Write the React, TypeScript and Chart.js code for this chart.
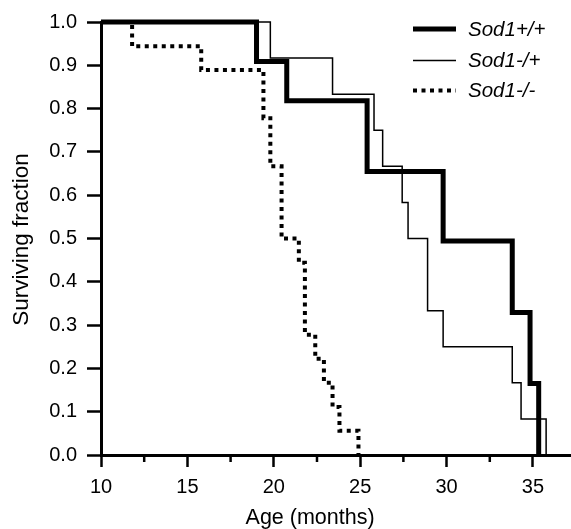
import React, { useEffect, useRef } from 'react';
import { Chart, registerables } from 'chart.js';

Chart.register(...registerables);

// Kaplan-Meier survival data (age in months, surviving fraction)
const wildAges = [10, 19.0, 20.75, 25.4, 29.8, 33.8, 34.83, 35.33];
const wildSurvival = [1, 0.909, 0.818, 0.655, 0.494, 0.329, 0.165, 0];
const hetAges = [10, 19.8, 23.4, 25.8, 26.3, 27.43, 27.77, 28.9, 29.8, 33.8, 34.31, 35.76];
const hetSurvival = [1, 0.917, 0.833, 0.75, 0.667, 0.583, 0.5, 0.333, 0.25, 0.167, 0.083, 0];
const nullAges = [10, 11.8, 15.8, 19.4, 19.8, 20.45, 21.45, 21.8, 22.4, 22.9, 23.4, 23.8, 24.9];
const nullSurvival = [1, 0.944, 0.889, 0.778, 0.667, 0.5, 0.444, 0.278, 0.222, 0.167, 0.111, 0.056, 0];

const seriesLabels = ['Sod1+/+', 'Sod1-/+', 'Sod1-/-'];
const xMajorTicks = [10, 15, 20, 25, 30, 35];
const xMinorTicks = [12.5, 17.5, 22.5, 27.5, 32.5];
const xTitle = 'Age (months)';
const yTitle = 'Surviving fraction';

const FONT = '"Liberation Sans", Arial, Helvetica, sans-serif';

const toPoints = (xs: number[], ys: number[]) => xs.map((x, i) => ({ x, y: ys[i] }));

const extrasPlugin = {
  id: 'extras',
  afterDraw(chart: any) {
    const ctx = chart.ctx;
    const xs = chart.scales.x;
    const ys = chart.scales.y;
    const bottom = chart.chartArea.bottom;
    ctx.save();
    // minor x ticks
    ctx.strokeStyle = '#000';
    ctx.lineWidth = 2.5;
    xMinorTicks.forEach((v) => {
      const px = xs.getPixelForValue(v);
      ctx.beginPath();
      ctx.moveTo(px, bottom);
      ctx.lineTo(px, bottom + 7);
      ctx.stroke();
    });
    // axis titles
    ctx.fillStyle = '#000';
    ctx.font = `21.5px ${FONT}`;
    ctx.textAlign = 'center';
    ctx.textBaseline = 'alphabetic';
    ctx.fillText(xTitle, xs.getPixelForValue(22.1), 524);
    ctx.save();
    ctx.font = `22.5px ${FONT}`;
    ctx.translate(28, (ys.getPixelForValue(0) + ys.getPixelForValue(1)) / 2 + 1);
    ctx.rotate(-Math.PI / 2);
    ctx.fillText(yTitle, 0, 0);
    ctx.restore();
    // legend
    const rows = [29, 60.5, 90.5];
    chart.data.datasets.forEach((ds: any, i: number) => {
      const y = rows[i];
      ctx.beginPath();
      ctx.lineWidth = ds.borderWidth;
      ctx.setLineDash(ds.borderDash || []);
      ctx.lineCap = 'butt';
      ctx.moveTo(413, y);
      ctx.lineTo(456, y);
      ctx.stroke();
      ctx.setLineDash([]);
      ctx.font = `italic 20.5px ${FONT}`;
      ctx.textAlign = 'left';
      ctx.textBaseline = 'middle';
      ctx.fillText(ds.label, 468, y + 1);
    });
    ctx.restore();
  },
};

export default function App() {
  const ref = useRef<HTMLCanvasElement | null>(null);

  useEffect(() => {
    if (!ref.current) return;
    const chart = new Chart(ref.current, {
      type: 'line',
      data: {
        datasets: [
          {
            label: seriesLabels[0],
            data: toPoints(wildAges, wildSurvival),
            borderColor: '#000',
            borderWidth: 5,
            stepped: 'before',
            pointRadius: 0,
            fill: false,
            clip: false,
            borderJoinStyle: 'miter',
            borderCapStyle: 'butt',
          },
          {
            label: seriesLabels[1],
            data: toPoints(hetAges, hetSurvival),
            borderColor: '#000',
            borderWidth: 1.5,
            stepped: 'before',
            pointRadius: 0,
            fill: false,
            clip: false,
            borderJoinStyle: 'miter',
          },
          {
            label: seriesLabels[2],
            data: toPoints(nullAges, nullSurvival),
            borderColor: '#000',
            borderWidth: 4,
            borderDash: [4, 4.5],
            stepped: 'before',
            pointRadius: 0,
            fill: false,
            clip: false,
            borderJoinStyle: 'miter',
            borderCapStyle: 'butt',
          },
        ],
      } as any,
      options: {
        responsive: false,
        animation: false,
        devicePixelRatio: 1,
        layout: { padding: { top: 20, right: 0, left: 0, bottom: 0 } },
        plugins: {
          legend: { display: false },
          tooltip: { enabled: false },
        },
        scales: {
          x: {
            type: 'linear',
            min: 10,
            max: 37.2,
            afterFit: (s: any) => {
              s.height = 74;
            },
            afterBuildTicks: (s: any) => {
              s.ticks = xMajorTicks.map((v) => ({ value: v }));
            },
            ticks: {
              stepSize: 5,
              includeBounds: false,
              color: '#000',
              font: { family: FONT, size: 20 },
              padding: 8,
              maxRotation: 0,
            },
            grid: {
              display: true,
              drawOnChartArea: false,
              drawTicks: true,
              tickLength: 12,
              tickWidth: 2.5,
              tickColor: '#000',
            },
            border: { display: true, color: '#000', width: 3 },
          },
          y: {
            type: 'linear',
            min: 0,
            max: 1,
            afterFit: (s: any) => {
              s.width = 101;
            },
            ticks: {
              stepSize: 0.1,
              color: '#000',
              font: { family: FONT, size: 20 },
              padding: 10,
              callback: (v: any) => Number(v).toFixed(1),
            },
            grid: {
              display: true,
              drawOnChartArea: false,
              drawTicks: true,
              tickLength: 14,
              tickWidth: 2.5,
              tickColor: '#000',
            },
            border: { display: true, color: '#000', width: 3 },
          },
        },
      } as any,
      plugins: [extrasPlugin],
    });
    return () => chart.destroy();
  }, []);

  return (
    <div style={{ position: 'fixed', left: 0, top: 0, width: 571, height: 529, background: '#fff' }}>
      <canvas ref={ref} width={571} height={529} style={{ display: 'block' }} />
    </div>
  );
}
